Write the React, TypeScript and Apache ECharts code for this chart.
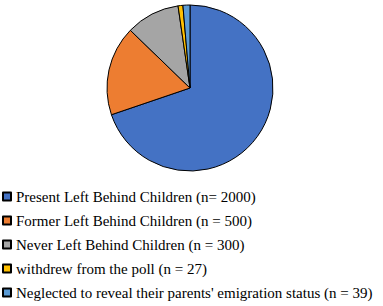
import React, { useEffect, useRef } from "react";
import * as echarts from "echarts";

const categories = [
  "Present Left Behind Children (n= 2000)",
  "Former Left Behind Children (n = 500)",
  "Never Left Behind Children (n = 300)",
  "withdrew from the poll (n = 27)",
  "Neglected to reveal their parents' emigration status (n = 39)",
];
const values = [2000, 500, 300, 27, 39];
const colors = ["#4472C4", "#ED7D31", "#A5A5A5", "#FFC000", "#5B9BD5"];

export default function App() {
  const ref = useRef<HTMLDivElement>(null);
  useEffect(() => {
    document.body.style.margin = "0";
    const chart = echarts.init(ref.current!, null, { renderer: "svg" });
    chart.setOption({
      animation: false,
      color: colors,
      legend: {
        orient: "vertical",
        left: 2,
        top: 189,
        height: 140,
        itemWidth: 8,
        itemHeight: 8,
        itemGap: 9,
        icon: "rect",
        padding: 0,
        textStyle: {
          fontFamily: "'Liberation Serif', 'Times New Roman', serif",
          fontSize: 15,
          color: "#000",
        },
        data: categories,
      },
      series: [
        {
          type: "pie",
          center: [190, 88],
          radius: 83,
          startAngle: 90,
          clockwise: true,
          label: { show: false },
          labelLine: { show: false },
          itemStyle: { borderColor: "#000", borderWidth: 1 },
          data: categories.map((c, i) => ({ name: c, value: values[i] })),
        },
      ],
    });
    return () => chart.dispose();
  }, []);
  return <div ref={ref} style={{ position: "absolute", left: 0, top: 0, width: 383, height: 306 }} />;
}
